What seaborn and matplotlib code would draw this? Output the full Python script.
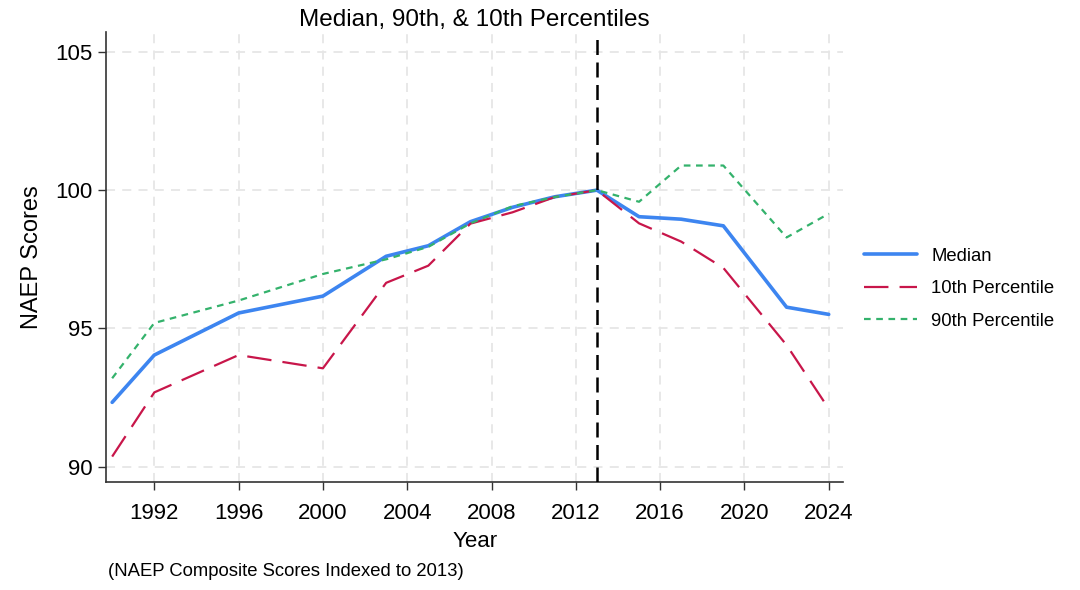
import matplotlib
matplotlib.use("Agg")
import matplotlib.pyplot as plt
import pandas as pd
import seaborn as sns

# NAEP composite scores indexed to 2013
years = [1990, 1992, 1996, 2000, 2003, 2005, 2007, 2009, 2011, 2013,
         2015, 2017, 2019, 2022, 2024]
median = [92.33, 94.04, 95.56, 96.17, 97.61, 97.99, 98.86, 99.38, 99.76, 100.0,
          99.04, 98.95, 98.71, 95.77, 95.51]
p10 = [90.37, 92.69, 94.04, 93.56, 96.65, 97.27, 98.79, 99.2, 99.75, 100.0,
       98.8, 98.14, 97.19, 94.4, 92.1]
p90 = [93.2, 95.2, 96.01, 96.97, 97.5, 97.95, 98.8, 99.42, 99.75, 100.0,
       99.58, 100.89, 100.89, 98.29, 99.15]
x_ticks = [1992, 1996, 2000, 2004, 2008, 2012, 2016, 2020, 2024]
y_ticks = [90, 95, 100, 105]
index_year = 2013

sns.set_style("white")
plt.rcParams['font.family'] = ['Liberation Sans', 'DejaVu Sans']
plt.rcParams['text.color'] = 'black'
plt.rcParams['axes.labelcolor'] = 'black'
plt.rcParams['xtick.color'] = 'black'
plt.rcParams['ytick.color'] = 'black'

df = pd.DataFrame({'Year': years, 'Median': median,
                   '10th Percentile': p10, '90th Percentile': p90})

fig = plt.figure(figsize=(10.8, 5.9), dpi=100)
ax = fig.add_axes([0.098, 0.183, 0.683, 0.762])

# grid first so lines sit on top
for t in x_ticks:
    ax.axvline(t, color='#e6e6e6', linewidth=1.3, linestyle=(0, (5, 4)), zorder=0)
for t in y_ticks:
    ax.axhline(t, color='#e6e6e6', linewidth=1.3, linestyle=(0, (5, 4)), zorder=0)

sns.lineplot(data=df, x='Year', y='Median', ax=ax, color='#3d85f0',
             linewidth=2.6, label='Median')
sns.lineplot(data=df, x='Year', y='10th Percentile', ax=ax, color='#c8164a',
             linewidth=1.6, linestyle=(0, (11, 5)), label='10th Percentile')
sns.lineplot(data=df, x='Year', y='90th Percentile', ax=ax, color='#34b26c',
             linewidth=1.6, linestyle=(0, (3, 2.5)), label='90th Percentile')

ax.axvline(index_year, color='black', linewidth=1.8, linestyle=(0, (6, 3)), zorder=3)

ax.set_xlim(1989.7, 2024.7)
ax.set_ylim(89.45, 105.7)
ax.set_xticks(x_ticks)
ax.set_yticks(y_ticks)
ax.tick_params(axis='both', labelsize=16, length=6, width=1, direction='out',
               color='#333333', bottom=True, left=True)
ax.tick_params(axis='x', pad=9)
for side in ['top', 'right']:
    ax.spines[side].set_visible(False)
for side in ['left', 'bottom']:
    ax.spines[side].set_color('#333333')
    ax.spines[side].set_linewidth(1.2)

ax.set_xlabel('Year', fontsize=16, labelpad=5)
ax.set_ylabel('NAEP Scores', fontsize=17, labelpad=9)
ax.set_title('Median, 90th, & 10th Percentiles', fontsize=17.5, pad=5)

ax.legend(loc='center left', bbox_to_anchor=(1.005, 0.43), frameon=False,
          fontsize=13.3, handlelength=2.9, labelspacing=0.85, handletextpad=0.75)

fig.text(0.1, 0.023, '(NAEP Composite Scores Indexed to 2013)', fontsize=13.3)

fig.savefig('out.png', dpi=100)
plt.close(fig)
